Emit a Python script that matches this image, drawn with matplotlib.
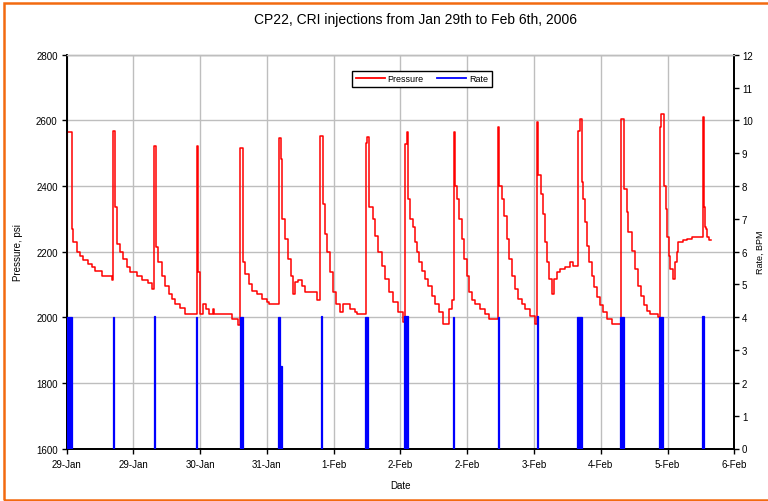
import matplotlib
matplotlib.use("Agg")
import matplotlib.pyplot as plt
from matplotlib.lines import Line2D
from matplotlib.patches import Rectangle

plt.rcParams['font.family'] = ['Liberation Sans', 'DejaVu Sans']

# ---- data (x in days since 29-Jan-2006 00:00) ----
pressure_days = [
    0.000, 0.008, 0.060, 0.080, 0.120, 0.160, 0.200, 0.260, 0.300, 0.340, 0.420, 0.540,
    0.558, 0.579, 0.600, 0.640, 0.680, 0.720, 0.760, 0.840, 0.900, 0.980, 1.020,
    1.050, 1.066, 1.100, 1.140, 1.180, 1.220, 1.260, 1.300, 1.360, 1.420,
    1.558, 1.577, 1.597, 1.630, 1.670, 1.700, 1.750, 1.765, 1.980, 2.050,
    2.077, 2.116, 2.137, 2.180, 2.220, 2.280, 2.340, 2.400, 2.420,
    2.548, 2.565, 2.577, 2.616, 2.656, 2.690, 2.710, 2.736, 2.776, 2.816, 2.856, 3.003,
    3.035, 3.068, 3.095, 3.123, 3.155, 3.195, 3.227, 3.275, 3.307, 3.395, 3.455, 3.480,
    3.583, 3.600, 3.627, 3.667, 3.695, 3.734, 3.775, 3.814, 3.866, 3.914, 3.974, 4.034,
    4.054, 4.075, 4.094, 4.114, 4.146, 4.174, 4.194, 4.225, 4.254, 4.294, 4.333, 4.374,
    4.413, 4.465, 4.513, 4.585, 4.614,
    4.641, 4.653, 4.673, 4.705, 4.733, 4.761, 4.793, 4.825, 4.853, 4.893, 4.953, 5.013, 5.064,
    5.172, 5.184, 5.213, 5.240, 5.273, 5.304, 5.333, 5.372, 5.412, 5.452, 5.492, 5.552, 5.612,
    5.632, 5.652, 5.680, 5.711, 5.732, 5.752, 5.783, 5.812, 5.839, 5.872, 5.911, 5.971, 6.031, 6.071,
    6.131, 6.150, 6.171, 6.190, 6.211, 6.231, 6.259, 6.291, 6.319, 6.351, 6.391, 6.431, 6.471, 6.531,
    6.639, 6.682, 6.710, 6.730, 6.771, 6.810, 6.850, 6.878, 6.918, 6.958, 6.990, 7.090,
    7.110, 7.125, 7.158, 7.182, 7.197, 7.214, 7.230, 7.270, 7.290, 7.310, 7.330, 7.390, 7.430, 7.490,
    7.621, 7.637, 7.650, 7.660, 7.676, 7.700, 7.715,
]
pressure_psi = [
    2183, 2564, 2269, 2229, 2200, 2188, 2173, 2163, 2152, 2142, 2127, 2112,
    2569, 2335, 2224, 2198, 2178, 2152, 2137, 2127, 2112, 2105, 2086,
    2523, 2213, 2168, 2127, 2096, 2071, 2056, 2041, 2027, 2010,
    2523, 2137, 2010, 2041, 2025, 2010, 2024, 2010, 1995, 1975,
    2515, 2168, 2132, 2102, 2081, 2071, 2056, 2046, 2041,
    2546, 2483, 2300, 2239, 2178, 2127, 2071, 2107, 2112, 2096, 2076, 2051,
    2552, 2345, 2254, 2198, 2137, 2076, 2041, 2015, 2041, 2025, 2015, 2010,
    2530, 2550, 2335, 2300, 2249, 2198, 2157, 2117, 2076, 2046, 2015, 1985,
    2528, 2564, 2361, 2300, 2274, 2229, 2198, 2168, 2142, 2117, 2096, 2066,
    2041, 2015, 1980, 2025, 2051,
    2564, 2401, 2361, 2300, 2239, 2178, 2127, 2076, 2051, 2041, 2025, 2010, 1995,
    2579, 2401, 2361, 2310, 2239, 2178, 2127, 2086, 2056, 2041, 2025, 2005, 1980,
    2595, 2432, 2376, 2315, 2229, 2168, 2117, 2071, 2117, 2137, 2147, 2152, 2168, 2157,
    2569, 2605, 2412, 2361, 2290, 2218, 2168, 2127, 2091, 2061, 2036, 2015, 1995, 1980,
    2605, 2391, 2320, 2259, 2203, 2147, 2096, 2066, 2036, 2020, 2010, 2000,
    2580, 2620, 2401, 2330, 2244, 2188, 2147, 2117, 2168, 2198, 2229, 2234, 2239, 2244,
    2610, 2335, 2274, 2270, 2244, 2234, 2234,
]

rate_start = [0.000, 0.555, 1.047, 1.555, 2.077, 2.536, 2.556, 3.050, 3.575, 4.040,
              4.633, 5.165, 5.632, 6.119, 6.630, 7.100, 7.617]
rate_end = [0.060, 0.562, 1.054, 1.562, 2.116, 2.556, 2.580, 3.058, 3.614, 4.090,
            4.645, 5.184, 5.652, 6.171, 6.678, 7.150, 7.637]
rate_bpm = [4.0, 4.0, 4.05, 4.0, 4.0, 4.0, 2.5, 4.05, 4.0, 4.05,
            4.0, 4.0, 4.05, 4.0, 4.0, 4.0, 4.05]

x_ticks = [0.0, 0.8, 1.6, 2.4, 3.2, 4.0, 4.8, 5.6, 6.4, 7.2, 8.0]
x_labels = ['29-Jan', '29-Jan', '30-Jan', '31-Jan', '1-Feb', '2-Feb',
            '2-Feb', '3-Feb', '4-Feb', '5-Feb', '6-Feb']
p_ticks = [1600, 1800, 2000, 2200, 2400, 2600, 2800]
r_ticks = list(range(0, 13))

# ---- figure ----
fig = plt.figure(figsize=(7.68, 5.02), dpi=100)
W, H = 768, 502
ax = fig.add_axes([66.7 / W, 1 - 449.5 / H, (734.3 - 66.7) / W, (449.5 - 55.7) / H])
ax2 = ax.twinx()

grid_c = '#BEBEBE'
ax.set_xlim(0, 8)
ax.set_ylim(1600, 2800)
ax2.set_ylim(0, 12)
ax.set_xticks(x_ticks)
ax.set_xticklabels(x_labels)
ax.set_yticks(p_ticks)
ax2.set_yticks(r_ticks)
ax.grid(True, color=grid_c, linewidth=1.0)
ax.set_axisbelow(True)

ax.step(pressure_days, pressure_psi, where='post', color='#FF0000', linewidth=1.1, zorder=3)
ax2.bar(rate_start, rate_bpm, width=[e - s for s, e in zip(rate_start, rate_end)],
        align='edge', color='#0000FF', edgecolor='#0000FF', linewidth=0.9, zorder=3)

for a in (ax, ax2):
    a.spines['top'].set_color(grid_c)
    a.spines['top'].set_linewidth(1.0)
    for s in ('left', 'right', 'bottom'):
        a.spines[s].set_linewidth(1.3)
        a.spines[s].set_color('black')
    a.tick_params(labelsize=7, length=3.5, width=1, direction='out', pad=3)
ax.tick_params(axis='x', pad=4)
ax2.tick_params(axis='y', pad=2)

ax.set_xlabel('Date', fontsize=7, labelpad=8)
ax.set_ylabel('Pressure, psi', fontsize=7)
ax.yaxis.set_label_coords((23 - 66.7) / 667.6, 0.5)
ax2.set_ylabel('Rate, BPM', fontsize=6.5, rotation=90)
ax2.yaxis.set_label_coords((756 - 66.7) / 667.6, 0.5)

fig.text(416 / W, 1 - 20 / H, 'CP22, CRI injections from Jan 29th to Feb 6th, 2006',
         ha='center', va='center', fontsize=10)

handles = [Line2D([0], [0], color='#FF0000', lw=1.3),
           Line2D([0], [0], color='#0000FF', lw=1.3)]
leg = ax2.legend(handles, ['Pressure', 'Rate'], loc='upper center',
                 bbox_to_anchor=((422 - 66.7) / 667.6, 0.971), ncol=2, fontsize=6.5,
                 frameon=True, fancybox=False, edgecolor='black', framealpha=1,
                 borderpad=0.4, handlelength=3.2, columnspacing=1.5, handletextpad=0.3)
leg.get_frame().set_linewidth(1.0)

fig.patches.append(Rectangle((4 / W, 1.5 / H), 1.1, 1 - 5.5 / H, transform=fig.transFigure,
                             fill=False, edgecolor='#F26A10', linewidth=1.8, clip_on=False))

fig.savefig('out.png', dpi=100, facecolor='white')
